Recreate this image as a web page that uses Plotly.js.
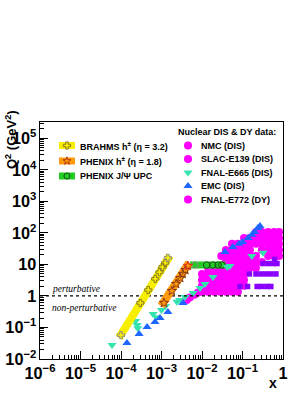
<!DOCTYPE html>
<html><head><meta charset="utf-8">
<script src="https://cdn.plot.ly/plotly-3.0.1.min.js"></script>
<style>html,body{margin:0;padding:0;background:#fff}#chart{width:307px;height:398px}</style>
</head><body><div id="chart"></div>
<script>
// ---------------- data ----------------
// BRAHMS h- (eta = 3.2)
var brahmsX  = [1.0e-4, 3.0e-4, 4.7e-4, 7.0e-4, 8.9e-4, 1.06e-3, 1.23e-3, 1.44e-3];
var brahmsQ2 = [0.057, 0.6, 1.55, 3.5, 5.7, 8.3, 11.1, 16.2];
var brahmsBandX  = [8.9e-5, 1.62e-3];
var brahmsBandQ2 = [0.047, 19];
// PHENIX h+- (eta = 1.8)
var phenixX  = [1.15e-3, 1.8e-3, 2.3e-3, 2.9e-3, 3.35e-3, 3.9e-3, 4.5e-3];
var phenixQ2 = [0.6, 1.44, 2.4, 3.7, 5.0, 6.7, 9.0];
var phenixBandX  = [9.8e-4, 4.8e-3];
var phenixBandQ2 = [0.48, 11.3];
// PHENIX J/Psi UPC
var upcX  = [6.7e-3, 1.3e-2, 1.85e-2, 2.5e-2, 3.1e-2];
var upcQ2 = [9.6, 9.6, 9.6, 9.6, 9.6];
var upcBandX  = [5.0e-3, 3.8e-2];
var upcBandQ2 = [9.6, 9.6];

// NMC (DIS)
var nmcX = [0.0042,0.0050,0.0065,0.0080,
  0.010,0.010,0.010,0.010,
  0.014,0.014,0.014,0.014,0.014,
  0.020,0.020,0.020,0.020,0.020,
  0.030,0.028,0.028,0.028,0.028,0.028,
  0.039,0.039,0.039,0.039,0.039,0.039,0.039,0.039,
  0.055,0.055,0.055,0.055,0.055,0.055,0.055,0.055,0.055,
  0.077,0.077,0.077,0.077,0.077,0.077,0.077,0.077,0.077];
var nmcQ2 = [0.75,0.9,1.1,1.3,
  5.0,3.2,2.1,1.35,
  7.8,5.0,3.2,2.1,1.35,
  7.8,5.0,3.2,2.1,1.35,
  18.6,7.8,5.0,3.2,2.1,1.35,
  29,18.6,12,7.8,5.0,3.2,2.1,1.35,
  45,29,18.6,12,7.8,5.0,3.2,2.1,1.35,
  45,29,18.6,12,7.8,5.0,3.2,2.1,1.35];
// SLAC-E139 (DIS)
var slacX = [0.109,0.109,0.109,0.109,0.109,0.109,0.109,
  0.153,0.153,0.153,0.153,0.215,0.215,0.215,0.30];
var slacQ2 = [29,18.6,12,7.8,5.0,3.2,2.1,
  29,18.6,12,7.8,18.6,12,7.8,12];
// FNAL-E772 (DY)
var e772X = [0.109,0.109,0.153,0.153,0.215,0.215,0.215,0.30,0.30,0.30,0.30,
  0.43,0.43,0.43,0.43,0.43,0.60,0.60,0.60,0.60,0.60,0.80,0.80,0.80,0.80,0.80];
var e772Q2 = [69,45,69,45,107,69,45,107,69,45,29,
  107,69,45,29,18.6,107,69,45,29,18.6,107,69,45,29,18.6];
// extra SLAC-E139 bins (purple)
var slacBinX  = [0.32,0.43,0.57,0.71, 0.62, 0.148,0.215,0.286,0.38,0.50,0.67, 0.087,0.133,0.23,0.30,0.40,0.50];
var slacBinQ2 = [10.7,10.7,10.7,10.7, 14.4, 5.0,5.0,5.0,5.0,5.0,5.0, 2.0,2.0,2.0,2.0,2.0,2.0];
// FNAL-E665 (DIS)
var e665X  = [6e-5, 2.3e-4, 2.5e-4, 2.6e-4, 6.2e-4, 7.5e-4, 1.0e-3, 1.25e-3, 2.4e-3, 2.8e-3, 3.8e-3, 6.0e-3, 8.9e-3, 1.18e-2, 1.86e-2, 0.042, 0.049, 0.17, 0.32];
var e665Q2 = [0.028, 0.16, 0.12, 0.095, 0.27, 0.21, 0.36, 0.48, 0.65, 0.75, 0.93, 1.25, 1.8, 2.4, 4.0, 8.3, 9.0, 18.6, 23.5];
// EMC (DIS)
var emcX  = [1.4e-4, 2.8e-4, 4.4e-4, 6.9e-4, 9.2e-4, 1.44e-3, 3.4e-3, 0.037, 0.058, 0.082, 0.10, 0.137, 0.17, 0.20, 0.24, 0.27];
var emcQ2 = [0.032, 0.062, 0.104, 0.149, 0.2, 0.31, 0.6, 25, 36, 45, 52, 69, 87, 107, 143, 166];

var boundaryX  = [1e-6, 1];
var boundaryQ2 = [1, 1];

var xTitle = 'x';
var yTitle = 'Q<sup>2</sup> (GeV<sup>2</sup>)';
var leftLegend  = ['BRAHMS h<sup>\u00b1</sup> (\u03b7 = 3.2)', 'PHENIX h<sup>\u00b1</sup> (\u03b7 = 1.8)', 'PHENIX J/\u03a8 UPC'];
var rightTitle  = 'Nuclear DIS & DY data:';
var rightLegend = ['NMC (DIS)', 'SLAC-E139 (DIS)', 'FNAL-E665 (DIS)', 'EMC (DIS)', 'FNAL-E772 (DY)'];

// ---------------- styling ----------------
var MAG = '#ff00ff', PURP = '#8a00ff', CYAN = '#35e3b0', BLUE = '#1f66ff';
var YEL = '#f7ee00', ORA = '#ff9a0a', GRN = '#22cc22';
var SANS = 'Liberation Sans, Arial, Helvetica, sans-serif';
var SERIF = 'Liberation Serif, Times New Roman, serif';

// plot-area pixel geometry
var L = 40, R = 283, T = 122, B = 359;
function px(p){ return (p - L) / (R - L); }
function py(p){ return (B - p) / (B - T); }

var traces = [];
function sc(x, y, opts){ var t = {x:x, y:y, type:'scatter', hoverinfo:'skip', cliponaxis:false}; for (var k in opts) t[k]=opts[k]; traces.push(t); }

var mk = function(sym, col, size){ return {symbol:sym, color:col, size:size, line:{width:0}}; };
sc(nmcX, nmcQ2, {mode:'markers', marker:mk('circle', MAG, 8)});
sc(slacX, slacQ2, {mode:'markers', marker:mk('circle', MAG, 8)});
sc(e772X, e772Q2, {mode:'markers', marker:mk('circle', MAG, 8)});
sc(slacBinX, slacBinQ2, {mode:'markers', marker:mk('square', PURP, 5.5)});
sc(upcBandX, upcBandQ2, {mode:'lines', line:{color:GRN, width:7}});
sc(upcX, upcQ2, {mode:'markers', marker:{symbol:'circle-open', size:6.5, color:['#888888','#1a4d1a','#1a4d1a','#1a4d1a','#1a4d1a'], line:{width:1}}});
sc(e665X, e665Q2, {mode:'markers', marker:mk('triangle-down', CYAN, 8)});
sc(emcX, emcQ2, {mode:'markers', marker:mk('triangle-up', BLUE, 8)});
sc(boundaryX, boundaryQ2, {mode:'lines', line:{color:'#000', width:1.3, dash:'dot'}, cliponaxis:true});
sc(brahmsBandX, brahmsBandQ2, {mode:'lines', line:{color:YEL, width:8}});
sc(brahmsX, brahmsQ2, {mode:'markers', marker:{symbol:'cross-open', size:6, color:['#8c8c8c','#8a7a20','#8a7a20','#8a7a20','#8a7a20','#8a7a20','#8a7a20','#8c8c8c'], line:{width:1}}});
sc(phenixBandX, phenixBandQ2, {mode:'lines', line:{color:ORA, width:8}});
sc(phenixX, phenixQ2, {mode:'markers', marker:{symbol:'star-open', size:7, color:['#8b3a1a','#8b3a1a','#8b3a1a','#8b3a1a','#8b3a1a','#8b3a1a','#e02a20'], line:{width:1}}});

// legend swatches on a pixel overlay axis
var leg = {xaxis:'x2', yaxis:'y2', type:'scatter', hoverinfo:'skip', cliponaxis:false};
function lg(o){ var t = {}; for (var k in leg) t[k]=leg[k]; for (var k2 in o) t[k2]=o[k2]; traces.push(t); }
var swY = [145.5, 161, 176];
var swCol = [YEL, ORA, GRN];
var swSym = ['cross-open', 'star-open', 'circle-open'];
var swMk = ['#8a7a20', '#b03a1a', '#1a4d1a'];
for (var i = 0; i < 3; i++) {
  lg({x:[59,75], y:[swY[i], swY[i]], mode:'lines', line:{color:swCol[i], width:7}});
  lg({x:[67], y:[swY[i]], mode:'markers', marker:{symbol:swSym[i], size:6, color:swMk[i], line:{width:1}}});
}
var rY = [145.5, 159, 172.5, 186, 199.5];
var rSym = ['circle', 'circle', 'triangle-down', 'triangle-up', 'circle'];
var rCol = [MAG, MAG, CYAN, BLUE, MAG];
for (var j = 0; j < 5; j++) {
  lg({x:[188], y:[rY[j]], mode:'markers', marker:{symbol:rSym[j], size:8, color:rCol[j], line:{width:0}}});
}

var ann = [];
function A(text, x, y, o){ var a = {text:text, x:px(x), y:py(y), xref:'paper', yref:'paper', showarrow:false, xanchor:'left', yanchor:'middle', font:{family:SANS, size:9, color:'#000', weight:'bold'}}; for (var k in o) a[k]=o[k]; ann.push(a); }
for (var a1 = 0; a1 < 3; a1++) A(leftLegend[a1], 78, swY[a1]);
A(rightTitle, 176, 132);
for (var a2 = 0; a2 < 5; a2++) A(rightLegend[a2], 199, rY[a2]);
A('perturbative', 50, 289, {font:{family:SERIF, size:9.5, color:'#000', style:'italic'}});
A('non-perturbative', 50, 308, {font:{family:SERIF, size:9.5, color:'#000', style:'italic'}});
A(xTitle, 273, 383, {xanchor:'center', font:{family:SANS, size:14, color:'#000', weight:'bold'}});
A(yTitle, 11, 140, {xanchor:'center', textangle:-90, font:{family:SANS, size:13, color:'#000', weight:'bold'}});

var axCommon = {
  type:'log', tickmode:'linear', tick0:0, dtick:1, exponentformat:'power',
  ticks:'inside', ticklen:8, tickwidth:1, tickcolor:'#000',
  showline:true, linecolor:'#000', linewidth:1, mirror:true,
  showgrid:false, zeroline:false,
  tickfont:{family:SANS, size:13, color:'#000', weight:'bold'},
  minor:{ticks:'inside', ticklen:4, dtick:'D1', tickcolor:'#000', tickwidth:1, showgrid:false}
};
var xa = JSON.parse(JSON.stringify(axCommon)); xa.range = [-6, 0];
var ya = JSON.parse(JSON.stringify(axCommon)); ya.range = [-2, 5.52];

var layout = {
  width:307, height:398,
  margin:{l:L, r:307-R, t:T, b:398-B, pad:0},
  paper_bgcolor:'#fff', plot_bgcolor:'#fff',
  showlegend:false,
  xaxis:xa, yaxis:ya,
  xaxis2:{overlaying:'x', anchor:'y2', range:[L, R], visible:false, fixedrange:true},
  yaxis2:{overlaying:'y', anchor:'x2', range:[B, T], visible:false, fixedrange:true},
  annotations:ann
};
Plotly.newPlot('chart', traces, layout, {staticPlot:true, displayModeBar:false});
</script></body></html>
